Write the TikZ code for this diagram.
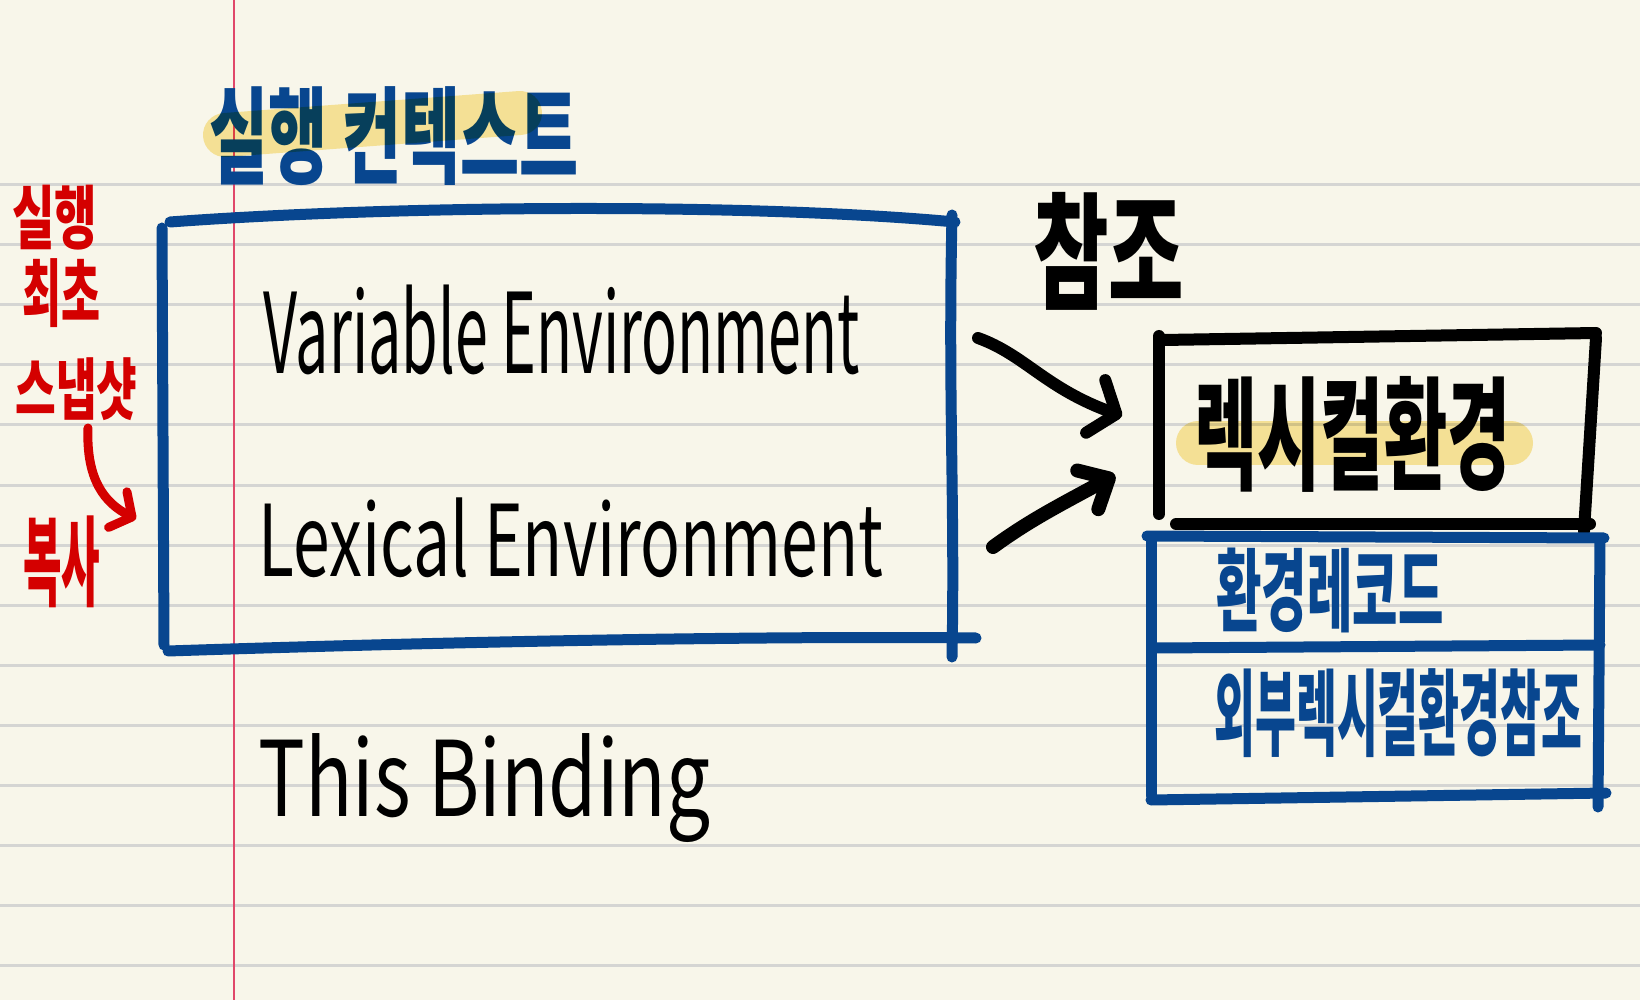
\documentclass[tikz,border=0pt]{standalone}
\usepackage{fontspec}
\usepackage{graphicx}
\setmainfont{Noto Sans CJK KR}
\usetikzlibrary{positioning,arrows.meta,calc}

\definecolor{paper}{HTML}{F8F6EA}
\definecolor{ruleline}{HTML}{D5D5D3}
\definecolor{marginline}{HTML}{E0486A}
\definecolor{ink}{HTML}{08468F}
\definecolor{redink}{HTML}{D40000}
\definecolor{marker}{HTML}{FBE9A3}

% text squeezed into a box of given width and height (pt)
\newcommand{\hand}[3]{\resizebox*{#1pt}{#2pt}{#3}}

\begin{document}
\begin{tikzpicture}[x=0.5pt,y=-0.5pt,
  txt/.style={inner sep=0pt,anchor=north west},
  bluepen/.style={draw=ink,line width=5.5pt,line cap=round,line join=round},
  blackpen/.style={draw=black,line width=6pt,line cap=round,line join=round},
  redpen/.style={draw=redink,line width=4.5pt,line cap=round,line join=round},
  hl/.style={draw=marker,line width=22pt,line cap=round}]
  \useasboundingbox (0,0) rectangle (1640,1000);
  \fill[paper] (0,0) rectangle (1640,1000);
  \foreach \y in {185,245,...,965}
    \draw[ruleline,line width=1.5pt] (0,\y)--(1640,\y);
  \draw[marginline,line width=1pt] (234,0)--(234,1000);

  % title
  \node[txt,text=ink] (title) at (209,86) {\bfseries\hand{184.5}{49.5}{실행 컨텍스트}};

  % red note on the left
  \node[txt,text=redink] (sil) at (12,185) {\bfseries\hand{42.5}{32.5}{실행}};
  \node[txt,text=redink] (choi) at (22,258) {\bfseries\hand{39}{34.5}{최초}};
  \node[txt,text=redink] (snap) at (15,357) {\bfseries\hand{61}{31.5}{스냅샷}};
  \node[txt,text=redink] (copy) at (23,515) {\bfseries\hand{38.5}{46}{복사}};
  \coordinate (r1) at (88,428);
  \coordinate (r2) at (136,519);
  \draw[redpen,-{Straight Barb[round,length=8pt,width=20pt]}] (r1) .. controls (86,480) and (105,503) .. (r2);

  % execution context box
  \draw[bluepen] (170,222) .. controls (400,205) and (750,203) .. (955,222);
  \draw[bluepen] (162,228) -- (164,645);
  \draw[bluepen] (168,651) .. controls (500,640) and (800,636) .. (976,638);
  \draw[bluepen] (952,215) .. controls (948,400) and (955,500) .. (952,657);
  \node[txt] (varenv) at (263,285) {\hand{298}{45}{Variable Environment}};
  \node[txt] (lexenv) at (258,497) {\hand{312.5}{40}{Lexical Environment}};
  \node[txt] (thisb) at (258,733) {\hand{226}{54.5}{This Binding}};

  % lexical environment
  \node[txt] (chamjo) at (1033,192) {\bfseries\hand{75.5}{59}{참조}};
  \draw[blackpen] (1163,340) -- (1596,333);
  \draw[blackpen] (1159,336) -- (1159,514);
  \draw[blackpen] (1596,338) -- (1584,531);
  \draw[blackpen] (1176,524) -- (1590,524);
  \node[txt] (lex) at (1194,376) {\bfseries\hand{158}{58}{렉시컬환경}};

  \draw[bluepen] (1147,536) -- (1604,538);
  \draw[bluepen] (1151,540) -- (1151,796);
  \draw[bluepen] (1600,540) -- (1598,807);
  \draw[bluepen] (1155,648) -- (1600,645);
  \draw[bluepen] (1151,800) -- (1606,793);
  \node[txt,text=ink] (rec) at (1216,548) {\bfseries\hand{113.5}{42.5}{환경레코드}};
  \node[txt,text=ink] (outer) at (1214,668) {\bfseries\hand{184}{44.5}{외부렉시컬환경참조}};

  % arrows
  \coordinate (a1s) at (978,338);
  \coordinate (a1e) at (1122,416);
  \coordinate (a2s) at (993,547);
  \coordinate (a2e) at (1115,475);
  \draw[blackpen,-{Straight Barb[round,length=11pt,width=28pt]}] (a1s) .. controls (1025,355) and (1045,388) .. (a1e);
  \draw[blackpen,line width=7pt,-{Straight Barb[round,length=12pt,width=22pt]}] (a2s) .. controls (1030,520) and (1060,505) .. (a2e);

  % highlighter
  \begin{scope}[blend mode=multiply]
    \draw[hl] (225,135) -- (520,113);
    \draw[hl] (1198,443) -- (1511,443);
  \end{scope}
\end{tikzpicture}
\end{document}
